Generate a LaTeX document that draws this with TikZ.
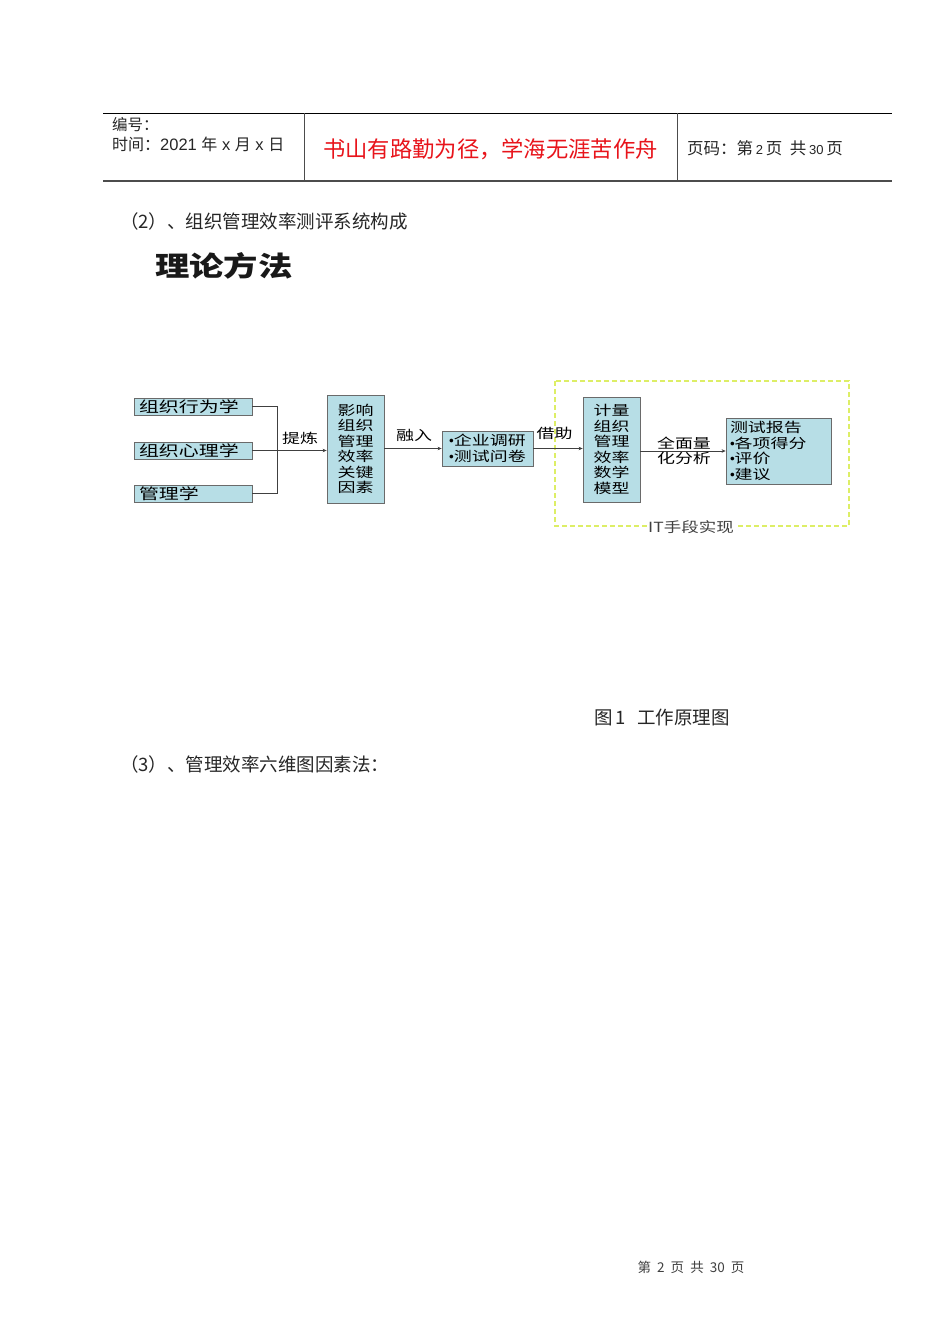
\documentclass[tikz,border=0pt]{standalone}
\usepackage{fontspec}
\setmainfont{Liberation Sans}
\newfontfamily\cjk{Noto Sans CJK SC}
\newfontfamily\cjkw[FakeStretch=1.33]{Noto Sans CJK SC}
\newfontfamily\cjkt[FakeStretch=1.25]{Noto Sans CJK SC}
\newcommand{\bul}{{\rmfamily •}}
\usetikzlibrary{arrows.meta}
\definecolor{boxfill}{HTML}{B7DEE6}
\definecolor{boxline}{HTML}{6A6A6A}
\definecolor{itgreen}{HTML}{DDEE66}
\definecolor{redtxt}{HTML}{E8141B}
\tikzset{
  box/.style={draw=boxline, fill=boxfill, line width=0.8pt, inner sep=0pt},
  dtxt/.style={font=\cjkw\fontsize{13.5}{15.5}\selectfont},
  btxt/.style={font=\cjkw\fontsize{15}{16}\selectfont, text width=108, align=left},
  conn/.style={draw=black!75, line width=0.6pt},
  arr/.style={conn, -{Stealth[length=4pt,width=3.5pt]}},
  plain/.style={inner sep=0pt, anchor=west, text=black!85},
}
\begin{document}
\begin{tikzpicture}[x=1pt,y=-1pt]
\useasboundingbox[fill=white] (0,0) rectangle (950,1344);
% header
\draw[line width=0.8pt] (103,113) -- (892,113);
\draw[line width=1.1pt, black!70] (103,181) -- (892,181);
\draw[line width=0.8pt, black!70] (304,113) -- (304,181);
\draw[line width=0.8pt, black!70] (677,113) -- (677,181);
\node[plain, font=\cjk\fontsize{15.5}{17}\selectfont] (bh) at (112,125) {编号：};
\node[plain, font=\cjk\fontsize{16}{17}\selectfont] (sj) at (112,144) {时间：{\rmfamily\fontsize{16.5}{17}\selectfont 2021 }年{\rmfamily\fontsize{16.5}{17}\selectfont{} x }月{\rmfamily\fontsize{16.5}{17}\selectfont{} x }日};
\node[inner sep=0pt, text=redtxt, font=\cjk\fontsize{22.3}{24}\selectfont] (motto) at (490.5,149) {书山有路勤为径，学海无涯苦作舟};
\node[plain, font=\cjk\fontsize{16.5}{17}\selectfont] (ym) at (687,148) {页码：第\,{\rmfamily\fontsize{13}{14}\selectfont 2}\,页\ \ 共\,{\rmfamily\fontsize{13}{14}\selectfont 30}\,页};
% section heading
\node[plain, font=\cjk\fontsize{18.5}{20}\selectfont] (sec2) at (120,221) {（2）、组织管理效率测评系统构成};
\node[plain, text=black!90, font=\cjkt\bfseries\fontsize{27.5}{30}\selectfont] (title) at (155,266) {理论方法};
% diagram
\draw[itgreen, line width=1.8pt, dash pattern=on 5pt off 3pt] (555,381) rectangle (849,526);
\node[box, btxt, minimum width=118, minimum height=17] (b1) at (193,406.5) {组织行为学};
\node[box, btxt, minimum width=118, minimum height=17] (b2) at (193,450.5) {组织心理学};
\node[box, btxt, minimum width=118, minimum height=17] (b3) at (193,493.5) {管理学};
\node[box, dtxt, minimum width=57, minimum height=108, align=center] (b4) at (355.5,449) {影响\\组织\\管理\\效率\\关键\\因素};
\node[box, dtxt, minimum width=91, minimum height=35, align=left] (b5) at (487.5,448.5) {\bul 企业调研\\\bul 测试问卷};
\node[box, dtxt, minimum width=105, minimum height=66, text width=97, align=left] (b7) at (778.5,451) {测试报告\\\bul 各项得分\\\bul 评价\\\bul 建议};
\node[box, dtxt, minimum width=57, minimum height=105, align=center] (b6) at (611.5,449.5) {计量\\组织\\管理\\效率\\数学\\模型};
\coordinate (j1) at (277,406.5);
\coordinate (j3) at (277,493.5);
\draw[conn] (b1.east) -- (j1) -- (j3) -- (b3.east);
\draw[arr] (b2.east) -- (b4.west |- b2.east);
\draw[arr] (b4.east |- b5.west) -- (b5.west);
\draw[arr] (b5.east) -- (b6.west |- b5.east);
\draw[arr] (b6.east |- b7.west) -- (b7.west);
\node[dtxt, inner sep=0pt] (l1) at (300,438) {提炼};
\node[dtxt, inner sep=0pt] (l2) at (414,435) {融入};
\node[dtxt, inner sep=0pt] (l3) at (554.5,433) {借助};
\node[dtxt, inner sep=0pt, align=center] (l4) at (684,451) {全面量\\化分析};
\node[fill=white, inner sep=1pt, text=black!75, font=\cjkt\fontsize{14}{15}\selectfont] (it) at (691,527) {IT手段实现};
% caption and next section
\node[plain, font=\cjk\fontsize{18.5}{20}\selectfont] (cap) at (594,717) {图\,1\ \ \,工作原理图};
\node[plain, font=\cjk\fontsize{18.5}{20}\selectfont] (sec3) at (120,764) {（3）、管理效率六维图因素法：};
% footer
\node[inner sep=0pt, text=black!75, font=\cjk\fontsize{13.5}{15}\selectfont] (foot) at (691,1267) {第\ \ 2\ \ 页\ \ 共\ \ 30\ \ 页};
\end{tikzpicture}
\end{document}
